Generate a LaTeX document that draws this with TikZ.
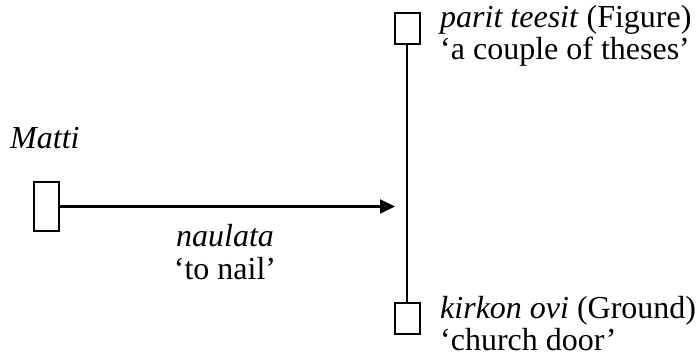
\documentclass[tikz,border=0pt]{standalone}
\usepackage{fontspec}
\setmainfont{Liberation Serif}
\usetikzlibrary{arrows.meta}
\begin{document}
\begin{tikzpicture}[x=1pt,y=-1pt,
  slot/.style={draw, line width=2pt, rectangle, inner sep=0pt, minimum width=25pt, minimum height=31pt},
  tall/.style={slot, minimum height=49pt},
  link/.style={line width=2.2pt},
  lbl/.style={inner sep=0pt, anchor=base west, font=\fontsize{32}{36}\selectfont},
  clbl/.style={lbl, anchor=base}]
  \useasboundingbox (0,0) rectangle (696,358);
  % participant boxes
  \node[tall] (agent) at (46.5,206.5) {};
  \node[slot] (figure) at (407,28.5) {};
  \node[slot] (ground) at (407,318) {};
  % the relation line and the action arrow
  \coordinate (tip) at (395,206.5);
  \draw[link] (figure.south) -- (ground.north);
  \draw[link, -{Triangle[length=15pt,width=14pt]}] (agent.east) -- (tip);
  % labels
  \node[lbl] (matti) at (10,149) {\textit{Matti}};
  \node[lbl] (fig1) at (440,28) {\textit{parit teesit} (Figure)};
  \node[lbl] (fig2) at (440,60) {‘a couple of theses’};
  \node[clbl] (verb1) at (225,247) {\textit{naulata}};
  \node[clbl] (verb2) at (225,279) {‘to nail’};
  \node[lbl] (gr1) at (440,318) {\textit{kirkon ovi} (Ground)};
  \node[lbl] (gr2) at (440,350) {‘church door’};
\end{tikzpicture}
\end{document}
